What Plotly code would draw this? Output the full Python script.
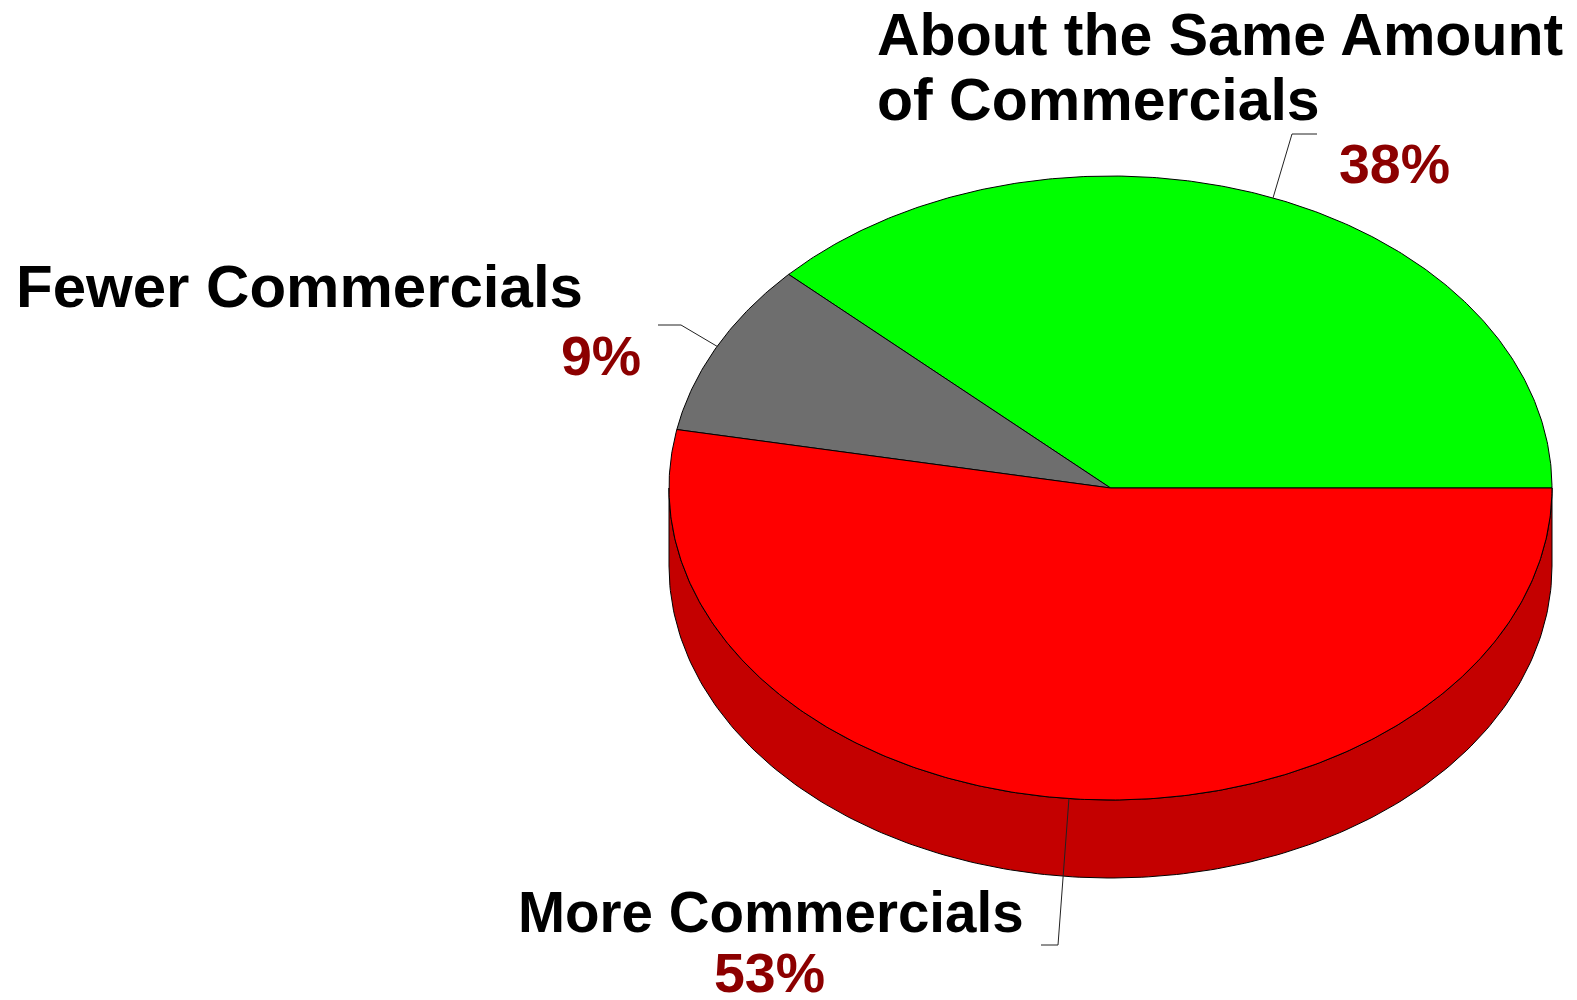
import numpy as np
import plotly.graph_objects as go

# ---------------- data ----------------
categories = ["About the Same Amount of Commercials", "Fewer Commercials", "More Commercials"]
label_lines = [["About the Same Amount", "of Commercials"], ["Fewer Commercials"], ["More Commercials"]]
values = [38, 9, 53]
pct_labels = ["38%", "9%", "53%"]

# ---------------- style ----------------
top_colors = ["#00FF00", "#6E6E6E", "#FF0000"]
side_colors = ["#00C400", "#555555", "#C40000"]
pct_color = "#8C0000"
FONT = "Arial, Liberation Sans, sans-serif"
LABEL_SIZES = [59, 60, 56.5]
PCT_SIZE = 55.5

W, H = 1577, 1000
CX, CY, RX, RY, DEPTH = 1110.5, 488.0, 441.5, 312.0, 78.0
START_DEG = 0.0  # first slice starts at 3 o'clock, going counter-clockwise

# label layout: (x_left, y_capcenter) per line, leader elbow and end
label_pos = [
    {"lines": [(875, 35), (875, 100)], "pct": (1337, 164), "elbow": (1292, 134), "end": (1317, 134)},
    {"lines": [(14, 286)], "pct": (559, 356), "elbow": (681, 325), "end": (658, 325)},
    {"lines": [(516, 912)], "pct": (712, 973), "elbow": (1058, 945), "end": (1041, 945)},
]


def ell(t_deg, dy=0.0):
    t = np.radians(t_deg)
    return CX + RX * np.cos(t), CY - RY * np.sin(t) + dy


total = float(sum(values))
bounds = [START_DEG]
for v in values:
    bounds.append(bounds[-1] + 360.0 * v / total)

fig = go.Figure()

# side walls (front half only: 180..360 deg)
for i in range(len(values)):
    a, b = bounds[i], bounds[i + 1]
    lo, hi = max(a, 180.0), min(b, 360.0)
    if hi <= lo:
        continue
    ts = np.linspace(lo, hi, 200)
    xt, yt = ell(ts)
    xb, yb = ell(ts[::-1], DEPTH)
    xs = np.concatenate([xt, xb, xt[:1]])
    ys = np.concatenate([yt, yb, yt[:1]])
    fig.add_trace(go.Scatter(x=xs, y=ys, mode="lines", fill="toself",
                             fillcolor=side_colors[i],
                             line=dict(color="black", width=1),
                             hoverinfo="skip", showlegend=False))

# top faces
for i in range(len(values)):
    a, b = bounds[i], bounds[i + 1]
    ts = np.linspace(a, b, max(20, int((b - a) * 2)))
    xt, yt = ell(ts)
    xs = np.concatenate([[CX], xt, [CX]])
    ys = np.concatenate([[CY], yt, [CY]])
    fig.add_trace(go.Scatter(x=xs, y=ys, mode="lines", fill="toself",
                             fillcolor=top_colors[i],
                             line=dict(color="black", width=1),
                             hoverinfo="skip", showlegend=False))

# leader lines + labels
annotations = []
for i in range(len(values)):
    mid = (bounds[i] + bounds[i + 1]) / 2.0
    sx, sy = ell(mid)
    lp = label_pos[i]
    fig.add_trace(go.Scatter(x=[sx, lp["elbow"][0], lp["end"][0]],
                             y=[sy, lp["elbow"][1], lp["end"][1]],
                             mode="lines", line=dict(color="#222222", width=1),
                             hoverinfo="skip", showlegend=False))
    for txt, (lx, ly) in zip(label_lines[i], lp["lines"]):
        annotations.append(dict(x=lx, y=ly, xref="x", yref="y", text="<b>%s</b>" % txt,
                                showarrow=False, xanchor="left", yanchor="middle",
                                font=dict(family=FONT, size=LABEL_SIZES[i], color="black")))
    annotations.append(dict(x=lp["pct"][0], y=lp["pct"][1], xref="x", yref="y",
                            text="<b>%s</b>" % pct_labels[i],
                            showarrow=False, xanchor="left", yanchor="middle",
                            font=dict(family=FONT, size=PCT_SIZE, color=pct_color)))

fig.update_layout(
    width=W, height=H,
    margin=dict(l=0, r=0, t=0, b=0),
    paper_bgcolor="white", plot_bgcolor="white",
    xaxis=dict(range=[0, W], visible=False, fixedrange=True),
    yaxis=dict(range=[H, 0], visible=False, fixedrange=True),
    annotations=annotations,
    showlegend=False,
)

fig.write_html("out.html", config={"displayModeBar": False},
               post_script="document.body.style.margin='0';document.body.style.overflow='hidden';")
